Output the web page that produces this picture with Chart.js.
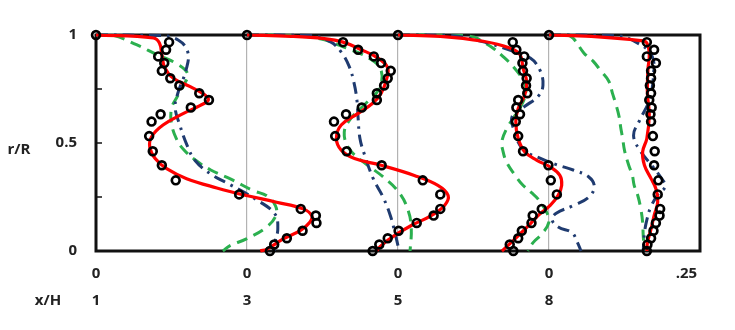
<!DOCTYPE html>
<html><head><meta charset="utf-8">
<script src="https://cdn.jsdelivr.net/npm/chart.js@4.4.1/dist/chart.umd.min.js"></script>
<style>html,body{margin:0;padding:0;background:#fff}</style>
</head><body>
<canvas id="c" width="735" height="330"></canvas>
<script>
// ---- tick labels / categories ----
const stations = ['1', '3', '5', '8'];          // x/H of each profile
const stationOffsets = [0, 0.25, 0.5, 0.75];    // profile baselines on the shared x axis
const xTickValues = [0, 0.25, 0.5, 0.75, 1];
const xTickLabels = ['0', '0', '0', '0', '.25'];
const yTickValues = [0, 0.5, 1];
const yTickLabels = ['0', '0.5', '1'];

// ---- experiment (circles) : radial stations and values per profile ----
const expR = [1, .967, .932, .901, .870, .834, .800, .766, .730, .699, .664, .633, .599, .532, .462, .397, .327, .262, .195, .164, .130, .094, .059, .030, 0];
const exp1 = [0, .121, .116, .103, .113, .109, .123, .138, .171, .187, .157, .107, .092, .088, .094, .109, .132, .237, .339, .364, .365, .342, .316, .295, .288];
const exp3 = [0, .159, .184, .210, .222, .238, .233, .227, .215, .215, .190, .164, .144, .146, .165, .223, .291, .320, .320, .309, .281, .251, .233, .219, .208];
const exp5 = [0, .190, .196, .209, .206, .207, .213, .212, .214, .199, .196, .202, .195, .199, .207, .249, .253, .263, .238, .223, .221, .205, .199, .185, .191];
const exp8 = [0, .162, .174, .162, .177, .169, .169, .167, .169, .166, .170, .168, .169, .172, .175, .174, .181, .180, .184, .183, .177, .173, .169, .163, .162];

// ---- red solid model : [value, r/R] ----
const red1 = [[0,1],[.095,.986],[.105,.963],[.109,.909],[.114,.847],[.128,.80],[.156,.761],[.180,.723],[.186,.699],[.172,.673],[.145,.637],[.111,.583],[.092,.529],[.089,.482],[.098,.428],[.117,.381],[.150,.335],[.200,.292],[.249,.257],[.299,.226],[.343,.195],[.357,.164],[.354,.133],[.338,.094],[.310,.056],[.283,.009],[.272,0]];
const red3 = [[0,1],[.073,.994],[.128,.983],[.159,.967],[.189,.932],[.217,.893],[.233,.847],[.230,.785],[.222,.730],[.208,.684],[.184,.637],[.156,.583],[.148,.521],[.156,.467],[.178,.428],[.222,.397],[.277,.350],[.316,.304],[.333,.257],[.327,.211],[.305,.164],[.272,.118],[.244,.071],[.222,.025],[.214,0]];
const red5 = [[0,1],[.070,.994],[.141,.971],[.185,.940],[.202,.909],[.207,.847],[.213,.785],[.210,.723],[.199,.660],[.195,.599],[.199,.521],[.210,.459],[.230,.420],[.252,.389],[.268,.350],[.271,.304],[.265,.257],[.252,.211],[.235,.172],[.219,.126],[.202,.079],[.185,.033],[.172,0]];
const red8 = [[0,1],[.070,.994],[.152,.974],[.162,.963],[.166,.909],[.164,.847],[.163,.785],[.163,.723],[.166,.630],[.162,.521],[.155,.459],[.158,.397],[.169,.335],[.177,.288],[.180,.226],[.174,.164],[.169,.102],[.163,.040],[.162,0]];

// ---- green dashed model ----
const green1 = [[0,1],[.03,.997],[.067,.955],[.10,.91],[.135,.865],[.152,.82],[.147,.777],[.134,.712],[.125,.66],[.125,.59],[.133,.52],[.145,.47],[.165,.42],[.19,.375],[.225,.33],[.26,.28],[.283,.255],[.297,.21],[.298,.165],[.283,.112],[.249,.056],[.222,.025],[.21,0]];
const green3 = [[0,1],[.073,.998],[.123,.981],[.164,.940],[.202,.893],[.222,.837],[.219,.753],[.197,.684],[.172,.614],[.161,.549],[.169,.474],[.194,.409],[.225,.344],[.252,.270],[.267,.186],[.272,.102],[.270,0]];
const green5 = [[0,1],[.10,.998],[.127,.99],[.139,.971],[.157,.94],[.174,.90],[.192,.85],[.205,.80],[.212,.75],[.207,.69],[.192,.62],[.180,.567],[.172,.507],[.174,.46],[.180,.41],[.194,.35],[.205,.31],[.221,.27],[.232,.24],[.246,.18],[.250,.135],[.238,.078],[.224,.04],[.215,0]];
const green8 = [[0,1],[.03,1],[.04,.985],[.058,.916],[.073,.879],[.086,.833],[.099,.786],[.105,.731],[.111,.677],[.116,.623],[.119,.567],[.122,.521],[.125,.466],[.132,.397],[.138,.350],[.141,.304],[.147,.257],[.152,.195],[.155,.134],[.156,.071],[.158,0]];

// ---- navy dash-dot model ----
const navy1 = [[0,1],[.106,.998],[.136,.977],[.152,.921],[.149,.837],[.136,.735],[.131,.665],[.139,.581],[.151,.488],[.164,.419],[.189,.358],[.222,.307],[.263,.242],[.296,.172],[.301,.102],[.296,.037],[.295,0]];
const navy3 = [[0,1],[.106,.998],[.139,.967],[.156,.921],[.169,.856],[.177,.781],[.182,.698],[.184,.614],[.187,.521],[.195,.442],[.209,.335],[.225,.251],[.237,.167],[.245,.084],[.252,0]];
const navy5 = [[0,1],[.086,.998],[.136,.972],[.185,.930],[.219,.893],[.235,.837],[.240,.767],[.232,.716],[.210,.670],[.189,.623],[.192,.56],[.207,.47],[.235,.43],[.262,.40],[.290,.375],[.315,.345],[.325,.30],[.316,.25],[.29,.21],[.262,.175],[.255,.145],[.266,.11],[.288,.085],[.297,.04],[.303,0]];
const navy8 = [[0,1],[.111,.998],[.144,.967],[.170,.907],[.173,.814],[.166,.698],[.150,.605],[.140,.535],[.152,.46],[.172,.39],[.187,.333],[.193,.30],[.180,.26],[.168,.20],[.162,.144],[.158,.083],[.156,0]];

const expSets = [exp1, exp3, exp5, exp8];
const redSets = [red1, red3, red5, red8];
const greenSets = [green1, green3, green5, green8];
const navySets = [navy1, navy3, navy5, navy8];

const FONT = {family: "'Open Sans', 'Liberation Sans', sans-serif", size: 15, weight: 'bold', lineHeight: 1.83};
const TEXT = '#222';

function toPts(pairs, off) { return pairs.map(p => ({x: off + p[0], y: p[1]})); }

const datasets = [];
expSets.forEach((vals, p) => datasets.push({
  data: expR.map((r, i) => ({x: stationOffsets[p] + vals[i], y: r})),
  showLine: false, pointRadius: 3.9, pointBorderWidth: 2.7,
  pointBorderColor: '#000', pointBackgroundColor: 'rgba(0,0,0,0)', clip: false
}));
redSets.forEach((s, p) => datasets.push({
  data: toPts(s, stationOffsets[p]), showLine: true, pointRadius: 0,
  borderColor: '#ff0000', borderWidth: 3.2, tension: 0.4, clip: 4
}));
navySets.forEach((s, p) => datasets.push({
  data: toPts(s, stationOffsets[p]), showLine: true, pointRadius: 0,
  borderColor: '#1f3b70', borderWidth: 3, borderDash: [12, 6, 2.5, 6], tension: 0.4, clip: 4
}));
greenSets.forEach((s, p) => datasets.push({
  data: toPts(s, stationOffsets[p]), showLine: true, pointRadius: 0,
  borderColor: '#2bb04f', borderWidth: 3, borderDash: [11, 7], tension: 0.4, clip: 4
}));

const framePlugin = {
  id: 'frame',
  beforeDatasetsDraw(chart) {
    const {ctx, chartArea: a, scales} = chart;
    ctx.save();
    ctx.strokeStyle = '#111';
    ctx.lineWidth = 3;
    ctx.strokeRect(a.left, a.top, a.right - a.left, a.bottom - a.top);
    ctx.lineWidth = 1.5;
    [0.25, 0.5, 0.75].forEach(v => {
      const y = scales.y.getPixelForValue(v);
      ctx.beginPath(); ctx.moveTo(a.left, y); ctx.lineTo(a.left + 6, y); ctx.stroke();
    });
    ctx.restore();
  },
  afterDraw(chart) {
    const ctx = chart.ctx;
    ctx.save();
    ctx.fillStyle = TEXT;
    ctx.font = `bold ${FONT.size}px ${FONT.family}`;
    ctx.textAlign = 'center';
    ctx.textBaseline = 'middle';
    ctx.fillText('r/R', 19, 150);
    ctx.fillText('x/H', 48, 301);
    ctx.restore();
  }
};

new Chart(document.getElementById('c'), {
  type: 'scatter',
  data: {datasets},
  plugins: [framePlugin],
  options: {
    responsive: false, animation: false, devicePixelRatio: 1, events: [],
    layout: {padding: {top: 35, right: 35, left: 0, bottom: 0}},
    plugins: {legend: {display: false}, tooltip: {enabled: false}},
    scales: {
      x: {
        type: 'linear', min: 0, max: 1,
        afterBuildTicks: s => { s.ticks = xTickValues.map(v => ({value: v})); },
        afterFit: s => { s.height = 79; },
        border: {display: false},
        grid: {
          drawTicks: false, lineWidth: 1.2,
          color: c => (c.index > 0 && c.index < xTickValues.length - 1) ? '#b3b3b3' : 'rgba(0,0,0,0)'
        },
        ticks: {
          font: FONT, color: TEXT, padding: 9, maxRotation: 0, autoSkip: false,
          callback: (v, i) => {
            if (i === xTickValues.length - 1) return [xTickLabels[i] + '\u00a0'.repeat(7), ''];
            return [xTickLabels[i], stations[i] || ''];
          }
        }
      },
      y: {
        type: 'linear', min: 0, max: 1,
        afterBuildTicks: s => { s.ticks = yTickValues.map(v => ({value: v})); },
        afterFit: s => { s.width = 96; },
        border: {display: false},
        grid: {display: false, drawTicks: false},
        ticks: {
          font: {...FONT, lineHeight: 1.2}, color: TEXT, padding: 19,
          callback: (v, i) => yTickLabels[i]
        }
      }
    }
  }
});
</script>
</body></html>
